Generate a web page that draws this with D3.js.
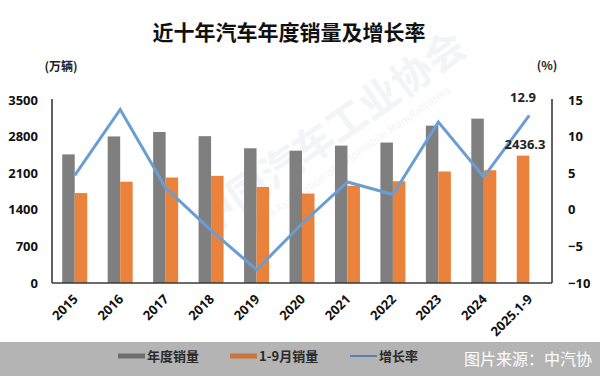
<!DOCTYPE html>
<html>
<head>
<meta charset="utf-8">
<script src="https://cdn.jsdelivr.net/npm/d3@7"></script>
<style>
  body { margin: 0; background: #fff; }
  svg { display: block; font-family: "Noto Sans CJK SC", "Noto Sans", sans-serif; }
</style>
</head>
<body>
<svg width="600" height="376"></svg>
<script>
// data
const years = ["2015", "2016", "2017", "2018", "2019", "2020", "2021", "2022", "2023", "2024", "2025.1-9"];
const annual = [2459.8, 2802.8, 2887.9, 2808.1, 2576.9, 2531.1, 2627.5, 2686.4, 3009.4, 3143.6, null];
const janSep = [1720, 1937, 2018, 2049, 1837, 1711, 1860, 1947, 2133, 2157, 2436.3];
const growth = [4.7, 13.7, 3.0, -2.8, -8.2, -1.9, 3.8, 2.1, 12.0, 4.5, 12.9];
const leftTicks = [0, 700, 1400, 2100, 2800, 3500];
const rightTicks = [-10, -5, 0, 5, 10, 15];

const svg = d3.select('svg');

const grey = '#7f7f7f', orange = '#ea823b', blue = '#6a9dd2', axisCol = '#3a3a3a';

const x = d3.scaleBand().domain(years).range([52, 552]).paddingInner(0.45).paddingOuter(0.225);
const sub = d3.scaleBand().domain(['a', 'b']).range([0, x.bandwidth()]);
const yL = d3.scaleLinear().domain([0, 3500]).range([283, 100]);
const yR = d3.scaleLinear().domain([-10, 15]).range([283, 100]);

// faint watermark
const wm = svg.append('g').attr('transform', 'translate(330,150) rotate(-35)').attr('fill', '#f2f4f8');
wm.append('text').text('中国汽车工业协会').attr('x', -150).attr('y', 0)
    .attr('font-size', 40).attr('font-weight', 'bold');
wm.append('text').text('China Association of Automobile Manufacturers').attr('x', -110).attr('y', 22)
    .attr('font-size', 11);

// title
svg.append('text').text('近十年汽车年度销量及增长率')
    .attr('x', 289).attr('y', 40).attr('text-anchor', 'middle')
    .attr('font-size', 21).attr('font-weight', 'bold').attr('fill', '#111');

// unit labels
svg.append('text').text('(万辆)').attr('x', 61).attr('y', 71).attr('text-anchor', 'middle')
    .attr('font-size', 12).attr('font-weight', 'bold').attr('fill', '#222');
svg.append('text').text('(%)').attr('x', 547).attr('y', 70).attr('text-anchor', 'middle')
    .attr('font-size', 12).attr('font-weight', 'bold').attr('fill', '#222');

// bars
const idx = d3.range(years.length);
svg.append('g').selectAll('rect').data(idx.filter(i => annual[i] != null)).join('rect')
    .attr('x', i => x(years[i]) + sub('a'))
    .attr('width', sub.bandwidth())
    .attr('y', i => yL(annual[i]))
    .attr('height', i => yL(0) - yL(annual[i]))
    .attr('fill', grey);

svg.append('g').selectAll('rect').data(idx).join('rect')
    .attr('x', i => x(years[i]) + sub(annual[i] == null ? 'a' : 'b'))
    .attr('width', sub.bandwidth())
    .attr('y', i => yL(janSep[i]))
    .attr('height', i => yL(0) - yL(janSep[i]))
    .attr('fill', orange);

// growth line
const line = d3.line()
    .x((d, i) => x(years[i]) + x.bandwidth() / 2)
    .y(d => yR(d));
svg.append('path').datum(growth).attr('d', line)
    .attr('fill', 'none').attr('stroke', blue).attr('stroke-width', 3).attr('stroke-linejoin', 'miter');

// axes
const left = svg.append('g').attr('transform', 'translate(52,0)')
    .call(d3.axisLeft(yL).tickValues(leftTicks).tickFormat(d3.format('d')).tickSize(0).tickPadding(14));
const right = svg.append('g').attr('transform', 'translate(552,0)')
    .call(d3.axisRight(yR).tickValues(rightTicks).tickFormat(d3.format('d')).tickSize(0).tickPadding(16));
const bottom = svg.append('g').attr('transform', 'translate(0,283)')
    .call(d3.axisBottom(x).tickSize(0).tickPadding(0));

[left, right, bottom].forEach(g => {
  g.select('.domain').attr('stroke', axisCol).attr('stroke-width', 1.6);
  g.selectAll('text').attr('font-size', 13).attr('font-weight', 'bold').attr('fill', '#111')
      .attr('font-family', '"Noto Sans", sans-serif');
});
left.select('.domain').attr('d', 'M0,99V283');
right.select('.domain').attr('d', 'M0,99V283');
bottom.select('.domain').attr('d', 'M52,0H552');

bottom.selectAll('.tick text')
    .attr('text-anchor', 'end')
    .attr('dy', null)
    .attr('transform', 'translate(4,17) rotate(-45)');

// annotations
const last = years.length - 1;
svg.append('text').text(growth[last].toFixed(1))
    .attr('x', 523).attr('y', yR(growth[last]) - 13).attr('text-anchor', 'middle')
    .attr('font-size', 13).attr('font-weight', 'bold').attr('fill', '#222')
    .attr('font-family', '"Noto Sans", sans-serif');
svg.append('text').text(janSep[last].toFixed(1))
    .attr('x', 525).attr('y', yL(janSep[last]) - 7).attr('text-anchor', 'middle')
    .attr('font-size', 13).attr('font-weight', 'bold').attr('fill', '#222')
    .attr('font-family', '"Noto Sans", sans-serif');

// footer band with legend
svg.append('rect').attr('x', 0).attr('y', 342).attr('width', 600).attr('height', 34).attr('fill', '#b4b4b4');

const legend = [
  {label: '年度销量', color: '#6d6d6d', x: 118, h: 5},
  {label: '1-9月销量', color: '#c8743a', x: 230, h: 5},
  {label: '增长率', color: '#5b7fae', x: 350, h: 2}
];
const lg = svg.append('g').selectAll('g').data(legend).join('g')
    .attr('transform', d => `translate(${d.x},356)`);
lg.append('rect').attr('x', 0).attr('y', d => -d.h / 2).attr('width', 27).attr('height', d => d.h)
    .attr('fill', d => d.color);
lg.append('text').text(d => d.label).attr('x', 29).attr('y', 5)
    .attr('font-size', 13).attr('font-weight', 'bold').attr('fill', '#2a2a2a');

svg.append('text').text('图片来源：中汽协').attr('x', 592).attr('y', 365).attr('text-anchor', 'end')
    .attr('font-size', 16).attr('fill', '#fff');
</script>
</body>
</html>
